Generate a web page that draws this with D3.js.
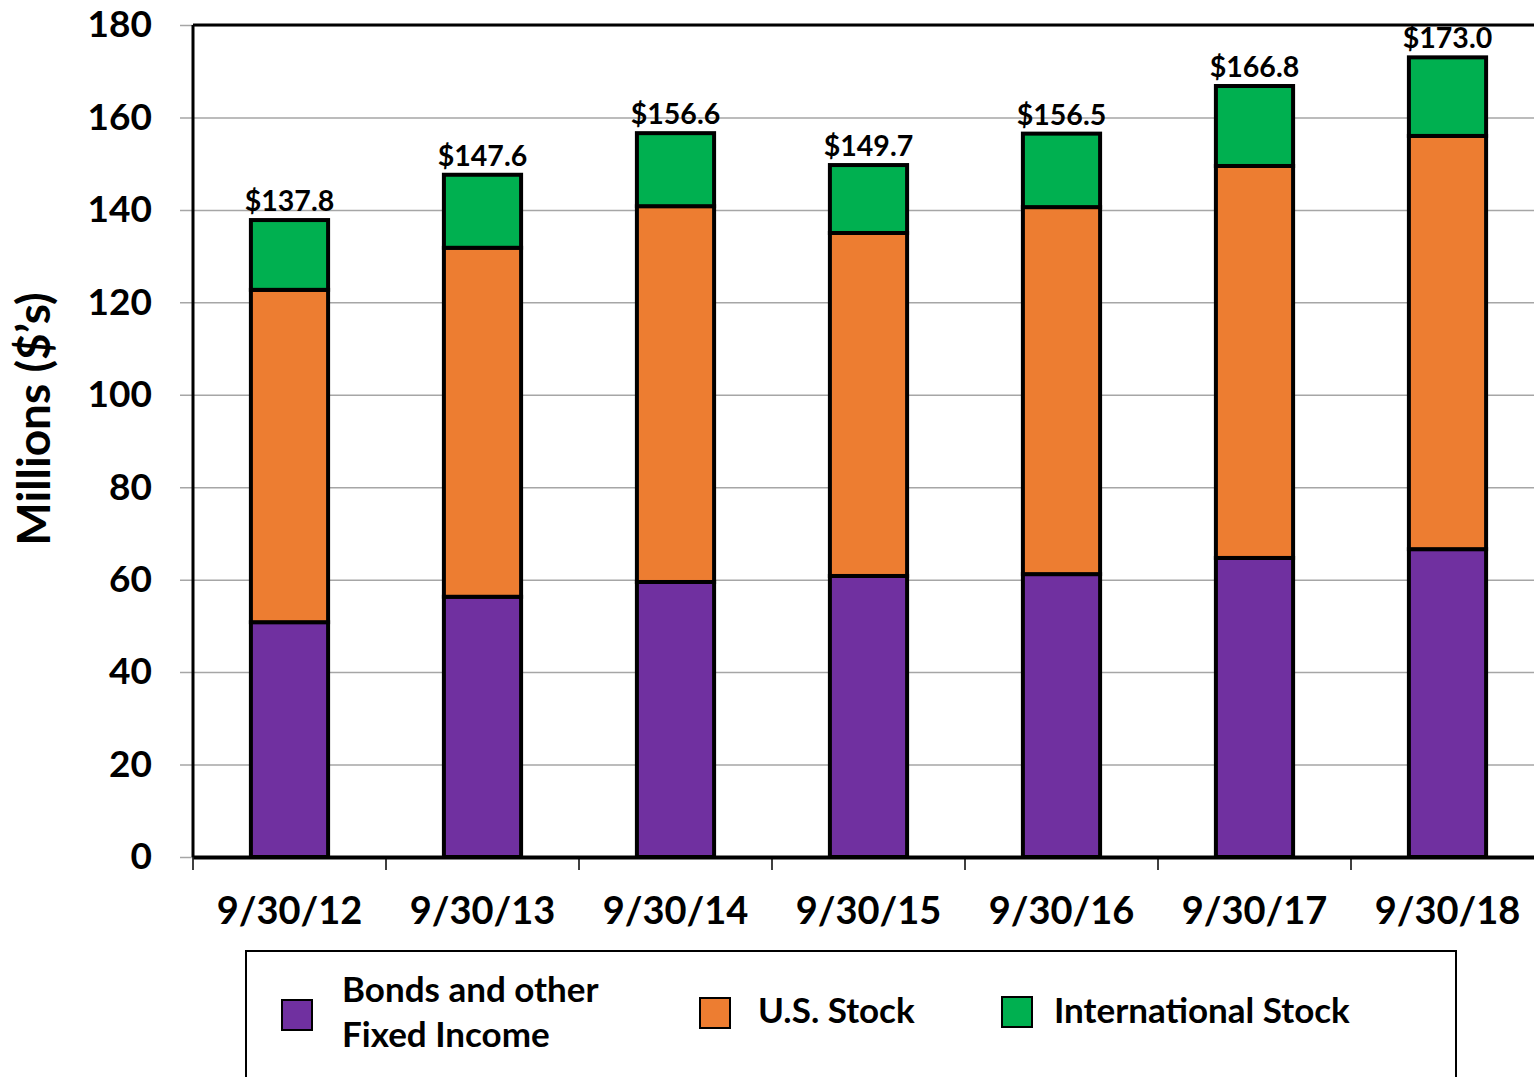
<!DOCTYPE html>
<html>
<head>
<meta charset="utf-8">
<script src="https://cdn.jsdelivr.net/npm/d3@7"></script>
<style>
  body { margin: 0; background: #fff; }
  svg { display: block; font-family: Lato, "Open Sans", sans-serif; font-weight: bold; }
</style>
</head>
<body>
<div id="chart"></div>
<script>
const dates = ["9/30/12","9/30/13","9/30/14","9/30/15","9/30/16","9/30/17","9/30/18"];
const bonds = [50.8, 56.3, 59.5, 60.8, 61.2, 64.7, 66.6];
const usStock = [71.9, 75.5, 81.3, 74.2, 79.4, 84.8, 89.4];
const intlStock = [15.1, 15.8, 15.8, 14.7, 15.9, 17.3, 17.0];
const totals = ["$137.8","$147.6","$156.6","$149.7","$156.5","$166.8","$173.0"];
const seriesNames = ["Bonds and other|Fixed Income","U.S. Stock","International Stock"];
const colors = ["#7030A0","#ED7D31","#00B050"];
const yTicks = [0,20,40,60,80,100,120,140,160,180];

const W = 1534, H = 1077;
const margin = {top:25, left:193};
const plotW = 193*7, plotH = 832;

const svg = d3.select("#chart").append("svg")
  .attr("width",W).attr("height",H);
const g = svg.append("g").attr("transform",`translate(${margin.left},${margin.top})`);

const x = d3.scaleBand().domain(dates).range([0,plotW]).paddingInner(0.6).paddingOuter(0.3);
const xb = d3.scaleBand().domain(dates).range([0,plotW]);
const y = d3.scaleLinear().domain([0,180]).range([plotH,0]);

// gridlines
g.append("g")
  .call(d3.axisLeft(y).tickValues(yTicks).tickSize(-plotW).tickSizeOuter(0).tickFormat(""))
  .call(a => a.select(".domain").remove())
  .call(a => a.selectAll("line").attr("stroke","#a6a6a6").attr("stroke-width",1.5).attr("x1",-13));

// y labels
g.append("g")
  .call(d3.axisLeft(y).tickValues(yTicks).tickSize(0).tickPadding(41))
  .call(a => a.select(".domain").remove())
  .call(a => a.selectAll("text").attr("font-size",37).attr("font-weight","bold")
    .attr("font-family","Lato, sans-serif").attr("fill","#000"));

// frame: top and left
g.append("line").attr("x1",0).attr("x2",plotW).attr("y1",0).attr("y2",0)
  .attr("stroke","#000").attr("stroke-width",3);
g.append("line").attr("x1",0).attr("x2",0).attr("y1",0).attr("y2",plotH)
  .attr("stroke","#000").attr("stroke-width",3);

// stacked data
const rows = dates.map((d,i) => ({date:d, b:bonds[i], u:usStock[i], n:intlStock[i]}));
const stack = d3.stack().keys(["b","u","n"])(rows);

g.selectAll("g.layer").data(stack).join("g")
  .attr("class","layer")
  .attr("fill",(d,i) => colors[i])
  .selectAll("rect").data(d => d).join("rect")
  .attr("x",d => x(d.data.date))
  .attr("width",x.bandwidth())
  .attr("y",d => y(d[1]))
  .attr("height",d => y(d[0]) - y(d[1]))
  .attr("stroke","#000").attr("stroke-width",4);

// total labels
g.selectAll("text.total").data(rows).join("text")
  .attr("class","total")
  .attr("x",d => x(d.date) + x.bandwidth()/2)
  .attr("y",d => y(d.b + d.u + d.n) - 9)
  .attr("text-anchor","middle")
  .attr("font-size",28.5)
  .text((d,i) => totals[i]);

// x axis
g.append("g")
  .attr("transform",`translate(0,${plotH})`)
  .call(d3.axisBottom(xb).tickSize(0).tickPadding(40))
  .call(a => a.select(".domain").attr("stroke","#000").attr("stroke-width",4))
  .call(a => a.selectAll("text").attr("font-size",38).attr("font-weight","bold")
    .attr("font-family","Lato, sans-serif").attr("fill","#000"));

// x ticks at band edges
g.append("g").selectAll("line").data(dates).join("line")
  .attr("x1",d => xb(d)).attr("x2",d => xb(d))
  .attr("y1",plotH).attr("y2",plotH + 13)
  .attr("stroke","#000").attr("stroke-width",1.5);

// y axis title
svg.append("text")
  .attr("transform","translate(50,419) rotate(-90)")
  .attr("text-anchor","middle")
  .attr("font-size",46)
  .text("Millions ($’s)");

// legend
const leg = svg.append("g");
leg.append("rect").attr("x",246).attr("y",951).attr("width",1210).attr("height",140)
  .attr("fill","none").attr("stroke","#000").attr("stroke-width",2);
const legItems = [
  {sx:282, sy:1000, tx:342},
  {sx:700, sy:998, tx:758},
  {sx:1002, sy:997, tx:1054}
];
legItems.forEach((p,i) => {
  leg.append("rect").attr("x",p.sx).attr("y",p.sy).attr("width",30).attr("height",30)
    .attr("fill",colors[i]).attr("stroke","#000").attr("stroke-width",2);
  const lines = seriesNames[i].split("|");
  const t = leg.append("text").attr("font-size",35).attr("x",p.tx);
  if (lines.length > 1) {
    lines.forEach((l,j) => t.append("tspan").attr("x",p.tx).attr("y",1002 + j*45).text(l));
  } else {
    t.attr("y",1023).text(lines[0]);
  }
});
</script>
</body>
</html>
